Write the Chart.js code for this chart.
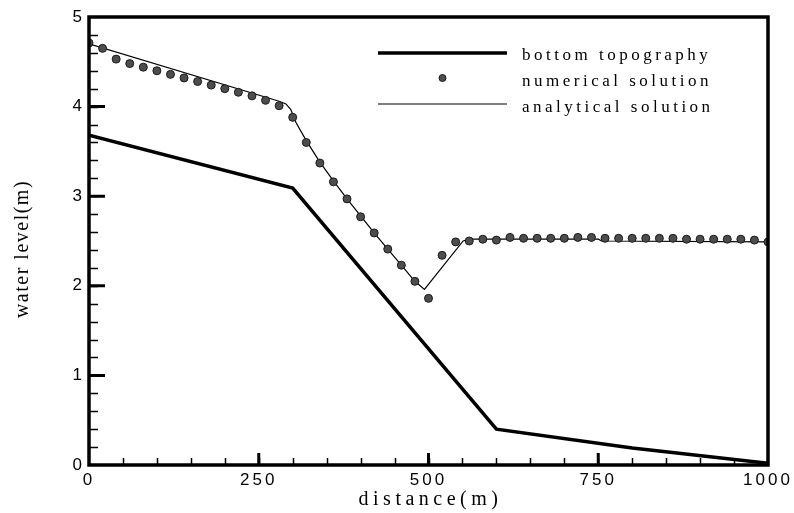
<!DOCTYPE html>
<html>
<head>
<meta charset="utf-8">
<script src="https://cdn.jsdelivr.net/npm/chart.js@4.4.1/dist/chart.umd.min.js"></script>
<style>
  body { margin: 0; background: #fff; }
</style>
</head>
<body>
<canvas id="chart" width="794" height="513"></canvas>
<script>
// bottom topography
var topoX = [0, 300, 600, 800, 1000];
var topoY = [3.68, 3.09, 0.40, 0.19, 0.02];

// analytical solution
var anaX = [0, 280, 290, 297, 305, 320, 340, 360, 380, 400, 420, 440, 460, 480, 494, 551, 560, 750, 755, 1000];
var anaY = [4.70, 4.06, 4.03, 3.97, 3.82, 3.62, 3.38, 3.17, 2.97, 2.78, 2.59, 2.41, 2.23, 2.05, 1.96, 2.50, 2.52, 2.52, 2.50, 2.49];

// numerical solution
var numX = [0, 20, 40, 60, 80, 100, 120, 140, 160, 180, 200, 220, 240, 260, 280, 300, 320, 340, 360, 380,
            400, 420, 440, 460, 480, 500, 520, 540, 560, 580, 600, 620, 640, 660, 680, 700, 720, 740, 760, 780,
            800, 820, 840, 860, 880, 900, 920, 940, 960, 980, 1000];
var numY = [4.71, 4.65, 4.53, 4.48, 4.44, 4.40, 4.36, 4.32, 4.28, 4.24, 4.20, 4.16, 4.12, 4.07, 4.01, 3.88, 3.60, 3.37, 3.16, 2.97,
            2.77, 2.59, 2.41, 2.23, 2.05, 1.86, 2.34, 2.49, 2.50, 2.52, 2.51, 2.54, 2.53, 2.53, 2.53, 2.53, 2.54, 2.54, 2.53, 2.53,
            2.53, 2.53, 2.53, 2.53, 2.52, 2.52, 2.52, 2.52, 2.52, 2.51, 2.49];

var xTicks = [0, 250, 500, 750, 1000];
var yTicks = [0, 1, 2, 3, 4, 5];
var xMinorStep = 50;
var yMinorStep = 0.2;

var legendLabels = ['bottom topography', 'numerical solution', 'analytical solution'];
var xTitle = 'distance(m)';
var yTitle = 'water level(m)';

function pts(xs, ys) {
  return xs.map(function (x, i) { return { x: x, y: ys[i] }; });
}

var dotFill = '#4d4d4d';
var dotEdge = '#1a1a1a';

var framePlugin = {
  id: 'frame',
  beforeDraw: function (chart) {
    chart.ctx.letterSpacing = '3px';
  },
  afterDraw: function (chart) {
    var ctx = chart.ctx;
    var a = chart.chartArea;
    var xs = chart.scales.x, ys = chart.scales.y;
    ctx.save();
    ctx.letterSpacing = '0px';
    ctx.strokeStyle = '#000';

    // minor ticks
    ctx.lineWidth = 1.5;
    ctx.beginPath();
    for (var v = xMinorStep; v < 1000; v += xMinorStep) {
      var px = Math.round(xs.getPixelForValue(v)) + 0.5;
      ctx.moveTo(px, a.bottom); ctx.lineTo(px, a.bottom - 7);
    }
    for (var k = 1; k < 25; k++) {
      var py = Math.round(ys.getPixelForValue(k * yMinorStep)) + 0.5;
      ctx.moveTo(a.left, py); ctx.lineTo(a.left + 9, py);
    }
    ctx.stroke();

    // major ticks
    ctx.lineWidth = 3;
    ctx.beginPath();
    xTicks.slice(1, -1).forEach(function (t) {
      var px = xs.getPixelForValue(t);
      ctx.moveTo(px, a.bottom); ctx.lineTo(px, a.bottom - 12);
    });
    yTicks.slice(1, -1).forEach(function (t) {
      var py = ys.getPixelForValue(t);
      ctx.moveTo(a.left, py); ctx.lineTo(a.left + 16, py);
    });
    ctx.stroke();

    // frame
    ctx.lineWidth = 3.5;
    ctx.strokeRect(a.left, a.top, a.right - a.left, a.bottom - a.top);

    // axis titles
    ctx.fillStyle = '#000';
    ctx.font = '20px "Liberation Serif", serif';
    ctx.textAlign = 'center';
    ctx.textBaseline = 'alphabetic';
    ctx.letterSpacing = '4.5px';
    ctx.fillText(xTitle, (a.left + a.right) / 2 + 2, 505);
    ctx.save();
    ctx.translate(28, (a.top + a.bottom) / 2 + 8);
    ctx.rotate(-Math.PI / 2);
    ctx.letterSpacing = '1.5px';
    ctx.fillText(yTitle, 0, 0);
    ctx.restore();

    // legend
    var lx0 = a.left + 289, lx1 = a.left + 418, tx = a.left + 433;
    var base = a.top + 43, gap = 26;
    ctx.lineWidth = 3.5;
    ctx.beginPath(); ctx.moveTo(lx0, base - 7); ctx.lineTo(lx1, base - 7); ctx.stroke();
    ctx.beginPath();
    ctx.arc((lx0 + lx1) / 2, base + gap - 8, 3.5, 0, Math.PI * 2);
    ctx.fillStyle = dotFill; ctx.fill();
    ctx.lineWidth = 1; ctx.strokeStyle = dotEdge; ctx.stroke();
    ctx.strokeStyle = '#000';
    ctx.lineWidth = 1.2;
    ctx.beginPath(); ctx.moveTo(lx0, base + 2 * gap - 8); ctx.lineTo(lx1, base + 2 * gap - 8); ctx.stroke();

    ctx.fillStyle = '#000';
    ctx.font = '17px "Liberation Serif", serif';
    ctx.textAlign = 'left';
    ctx.letterSpacing = '3.5px';
    legendLabels.forEach(function (s, i) {
      ctx.fillText(s, tx, base + i * gap);
    });
    ctx.restore();
  }
};

new Chart(document.getElementById('chart').getContext('2d'), {
  type: 'scatter',
  data: {
    datasets: [{
      label: legendLabels[0],
      data: pts(topoX, topoY),
      showLine: true,
      borderColor: '#000',
      borderWidth: 3.5,
      pointRadius: 0,
      order: 3
    }, {
      label: legendLabels[2],
      data: pts(anaX, anaY),
      showLine: true,
      borderColor: '#000',
      borderWidth: 1.2,
      pointRadius: 0,
      order: 2
    }, {
      label: legendLabels[1],
      data: pts(numX, numY),
      showLine: false,
      pointRadius: 4,
      pointBackgroundColor: dotFill,
      pointBorderColor: dotEdge,
      pointBorderWidth: 1,
      order: 1
    }]
  },
  options: {
    responsive: false,
    animation: false,
    layout: { padding: { top: 17, right: 26, left: 0, bottom: 0 } },
    plugins: { legend: { display: false }, tooltip: { enabled: false } },
    scales: {
      x: {
        type: 'linear',
        min: 0,
        max: 1000,
        afterFit: function (s) { s.height = 48; },
        afterBuildTicks: function (s) { s.ticks = xTicks.map(function (v) { return { value: v }; }); },
        grid: { display: false, drawTicks: false },
        border: { display: false },
        ticks: {
          padding: 5,
          color: '#000',
          font: { family: '"Liberation Sans", Arial, sans-serif', size: 17 },
          maxRotation: 0,
          callback: function (v) { return String(v); }
        }
      },
      y: {
        type: 'linear',
        min: 0,
        max: 5,
        afterFit: function (s) { s.width = 89; },
        afterBuildTicks: function (s) { s.ticks = yTicks.map(function (v) { return { value: v }; }); },
        grid: { display: false, drawTicks: false },
        border: { display: false },
        ticks: {
          padding: 4,
          color: '#000',
          font: { family: '"Liberation Sans", Arial, sans-serif', size: 17 },
          callback: function (v) { return String(v); }
        }
      }
    }
  },
  plugins: [framePlugin]
});
</script>
</body>
</html>
